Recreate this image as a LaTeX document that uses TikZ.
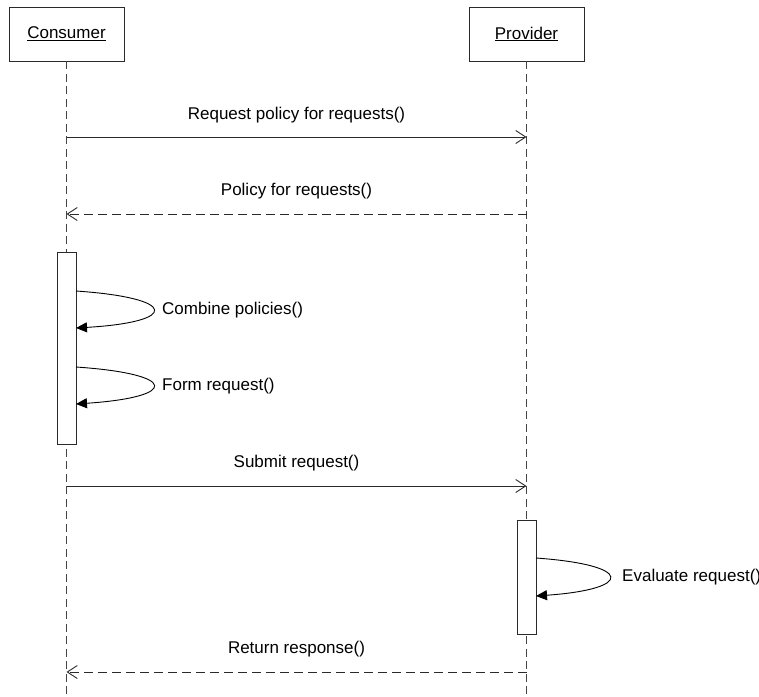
\documentclass[tikz,border=0pt]{standalone}
\usepackage{fontspec}
\setmainfont{Liberation Sans}
\usetikzlibrary{arrows.meta}
\definecolor{linegray}{HTML}{2A2A2A}
\definecolor{lifegray}{HTML}{444444}
\tikzset{
  actor/.style={draw=linegray, line width=0.9pt, fill=white, minimum width=115pt,
    minimum height=54pt, inner sep=0pt, font=\fontsize{17}{20}\selectfont},
  activation/.style={draw=linegray, line width=0.9pt, fill=white, minimum width=19pt,
    inner sep=0pt},
  lifeline/.style={draw=lifegray, line width=0.9pt, dash pattern=on 8pt off 4.5pt},
  call/.style={draw=linegray, line width=0.9pt,
    -{Straight Barb[length=10pt,width=13pt,line width=0.9pt]}},
  reply/.style={call, dash pattern=on 9pt off 5pt},
  selfcall/.style={draw=black, line width=0.9pt,
    -{Triangle[length=11pt,width=10pt,fill=black]}},
  msglabel/.style={font=\fontsize{17}{20}\selectfont, inner sep=0pt, text=black},
}
\begin{document}
\begin{tikzpicture}[x=1pt, y=-1pt]
  \useasboundingbox (0,0) rectangle (759,696);

  % lifeline ends
  \coordinate (cEnd) at (66.5,696);
  \coordinate (pEnd) at (526.5,696);

  % actors
  \node[actor] (consumer) at (66.5,34) {\underline{Consumer}};
  \node[actor] (provider) at (526.5,34) {\underline{Provider}};

  % lifelines
  \draw[lifeline] (consumer.south) -- (cEnd);
  \draw[lifeline] (provider.south) -- (pEnd);

  % activation bars
  \node[activation, minimum height=192pt] (cAct) at (66.5,348) {};
  \node[activation, minimum height=114pt] (pAct) at (526.5,577) {};

  % message anchor points on the lifelines
  \coordinate (c1) at (66.5,137);  \coordinate (p1) at (526.5,137);
  \coordinate (c2) at (66.5,214);  \coordinate (p2) at (526.5,214);
  \coordinate (c3) at (66.5,486);  \coordinate (p3) at (526.5,486);
  \coordinate (c4) at (66.5,672);  \coordinate (p4) at (526.5,672);

  % messages between consumer and provider
  \draw[call]  (c1) -- (p1);
  \node[msglabel] (l1) at (296.5,115) {Request policy for requests()};
  \draw[reply] (p2) -- (c2);
  \node[msglabel] (l2) at (296.5,191) {Policy for requests()};
  \draw[call]  (c3) -- (p3);
  \node[msglabel] (l3) at (296.5,463) {Submit request()};
  \draw[reply] (p4) -- (c4);
  \node[msglabel] (l4) at (296.5,649) {Return response()};

  % self calls on the consumer
  \coordinate (s1a) at (76,291);  \coordinate (s1b) at (76,328);
  \draw[selfcall] (s1a) .. controls (179,298) and (179,322) .. (s1b);
  \node[msglabel, anchor=west] (l5) at (162,310) {Combine policies()};

  \coordinate (s2a) at (76,367);  \coordinate (s2b) at (76,404);
  \draw[selfcall] (s2a) .. controls (179,374) and (179,397) .. (s2b);
  \node[msglabel, anchor=west] (l6) at (162,386) {Form request()};

  % self call on the provider
  \coordinate (s3a) at (536,558);  \coordinate (s3b) at (536,596);
  \draw[selfcall] (s3a) .. controls (634,565) and (634,589) .. (s3b);
  \node[msglabel, anchor=west] (l7) at (622,577) {Evaluate request()};
\end{tikzpicture}
\end{document}
